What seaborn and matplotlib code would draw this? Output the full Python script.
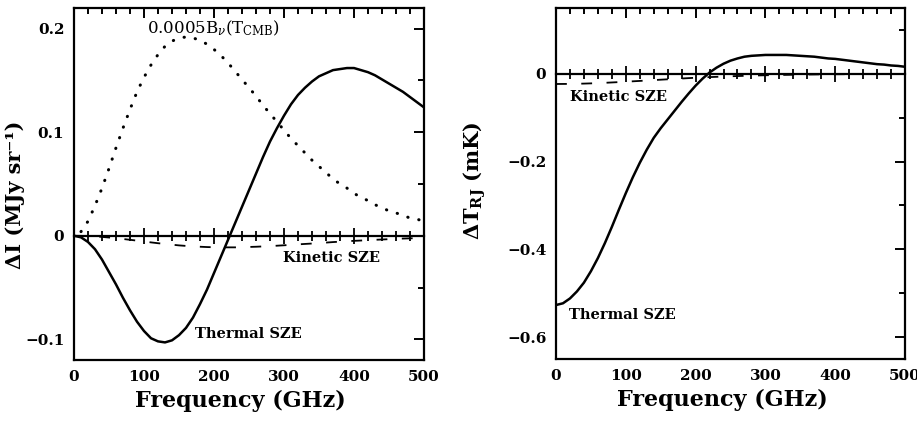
import numpy as np
import matplotlib
matplotlib.use("Agg")
import matplotlib.pyplot as plt
import seaborn as sns
from matplotlib.ticker import MultipleLocator, FixedLocator

# --------------------------------------
# DATA
# --------------------------------------

freq = list(range(0, 501, 10))

# left panel, intensity (MJy/sr)
thermal_I = [0.0, -0.0015, -0.006, -0.013, -0.023, -0.035, -0.047, -0.060,
             -0.072, -0.083, -0.092, -0.099, -0.102, -0.103, -0.101, -0.096,
             -0.089, -0.079, -0.066, -0.052, -0.036, -0.020, -0.004, 0.012,
             0.028, 0.044, 0.060, 0.076, 0.091, 0.104, 0.116, 0.127, 0.136,
             0.143, 0.149, 0.154, 0.157, 0.160, 0.161, 0.162, 0.162, 0.160,
             0.158, 0.155, 0.151, 0.147, 0.143, 0.139, 0.134, 0.129, 0.124]
kinetic_I = [0.0, -0.0001, -0.0003, -0.0006, -0.0011, -0.0017, -0.0023,
             -0.0031, -0.0039, -0.0047, -0.0055, -0.0064, -0.0072, -0.0079,
             -0.0086, -0.0093, -0.0098, -0.0103, -0.0106, -0.0109, -0.0111,
             -0.0112, -0.0112, -0.0112, -0.0110, -0.0108, -0.0106, -0.0103,
             -0.0100, -0.0096, -0.0092, -0.0088, -0.0083, -0.0079, -0.0075,
             -0.0070, -0.0066, -0.0061, -0.0057, -0.0053, -0.0049, -0.0046,
             -0.0042, -0.0039, -0.0036, -0.0033, -0.0030, -0.0027, -0.0025,
             -0.0023, -0.0021]
planck_I = [0.0, 0.004, 0.014, 0.029, 0.046, 0.065, 0.085, 0.104, 0.122,
            0.139, 0.153, 0.165, 0.175, 0.183, 0.188, 0.191, 0.192, 0.191,
            0.189, 0.185, 0.180, 0.174, 0.167, 0.159, 0.151, 0.143, 0.135,
            0.126, 0.118, 0.110, 0.102, 0.094, 0.087, 0.080, 0.073, 0.067,
            0.061, 0.055, 0.050, 0.046, 0.041, 0.037, 0.034, 0.030, 0.027,
            0.024, 0.022, 0.020, 0.017, 0.016, 0.014]

# right panel, RJ brightness temperature (mK)
thermal_T = [-0.527, -0.523, -0.512, -0.496, -0.476, -0.450, -0.420, -0.386,
             -0.349, -0.310, -0.272, -0.236, -0.203, -0.173, -0.146, -0.124,
             -0.104, -0.084, -0.064, -0.045, -0.027, -0.011, 0.003, 0.014,
             0.023, 0.030, 0.035, 0.039, 0.041, 0.042, 0.043, 0.043, 0.043,
             0.043, 0.042, 0.041, 0.040, 0.039, 0.037, 0.035, 0.034, 0.032,
             0.030, 0.028, 0.026, 0.024, 0.022, 0.021, 0.019, 0.018, 0.016]
kinetic_T = [-0.0232, -0.0231, -0.0230, -0.0227, -0.0223, -0.0218, -0.0212,
             -0.0205, -0.0197, -0.0189, -0.0180, -0.0171, -0.0162, -0.0153,
             -0.0143, -0.0134, -0.0125, -0.0115, -0.0107, -0.0098, -0.0090,
             -0.0083, -0.0075, -0.0069, -0.0062, -0.0056, -0.0051, -0.0046,
             -0.0041, -0.0037, -0.0033, -0.0030, -0.0026, -0.0024, -0.0021,
             -0.0019, -0.0017, -0.0015, -0.0013, -0.0011, -0.0010, -0.0009,
             -0.0008, -0.0007, -0.0006, -0.0005, -0.0005, -0.0004, -0.0004,
             -0.0003, -0.0003]

left_yticks = [-0.1, 0, 0.1, 0.2]
left_ylabels = ["\u22120.1", "0", "0.1", "0.2"]
right_yticks = [-0.6, -0.4, -0.2, 0]
right_ylabels = ["\u22120.6", "\u22120.4", "\u22120.2", "0"]

# --------------------------------------
# STYLE
# --------------------------------------

sns.set_theme(style="white")
plt.rcParams["font.family"] = ["DejaVu Serif"]
plt.rcParams["mathtext.fontset"] = "dejavuserif"
plt.rcParams["text.color"] = "black"
plt.rcParams["axes.labelcolor"] = "black"
plt.rcParams["xtick.color"] = "black"
plt.rcParams["ytick.color"] = "black"
plt.rcParams["axes.linewidth"] = 1.6

fig = plt.figure(figsize=(9.17, 4.22), dpi=100)
axL = fig.add_axes([74 / 917, 62 / 422, 350 / 917, 352 / 422])
axR = fig.add_axes([556 / 917, 63 / 422, 349 / 917, 351 / 422])


def style_axes(ax, yminor):
    ax.set_xlim(0, 500)
    ax.xaxis.set_major_locator(MultipleLocator(100))
    ax.xaxis.set_minor_locator(MultipleLocator(20))
    ax.yaxis.set_minor_locator(MultipleLocator(yminor))
    ax.tick_params(which="both", direction="in", top=True, right=True,
                   colors="black", labelcolor="black", width=1.4)
    ax.tick_params(which="major", length=7, labelsize=11, pad=7)
    ax.tick_params(which="minor", length=4)
    for lab in ax.get_xticklabels() + ax.get_yticklabels():
        lab.set_fontweight("bold")
    for sp in ax.spines.values():
        sp.set_color("black")
        sp.set_linewidth(1.6)
    # zero line with crossing ticks
    sec = ax.secondary_xaxis(0, transform=ax.transData)
    sec.xaxis.set_major_locator(MultipleLocator(100))
    sec.xaxis.set_minor_locator(MultipleLocator(20))
    sec.tick_params(which="both", direction="inout", labelbottom=False,
                    colors="black", width=1.3)
    sec.tick_params(which="major", length=12)
    sec.tick_params(which="minor", length=7)
    sec.spines["bottom"].set_linewidth(1.6)
    sec.spines["bottom"].set_color("black")
    ax.set_xlabel("Frequency (GHz)", fontsize=16, fontweight="bold",
                  color="black")


# --------------------------------------
# LEFT PANEL - INTENSITY
# --------------------------------------

sns.lineplot(x=freq, y=thermal_I, ax=axL, color="black", lw=1.8)
sns.lineplot(x=freq, y=kinetic_I, ax=axL, color="black", lw=1.3,
             linestyle=(0, (6, 8)))
sns.lineplot(x=freq[1:], y=planck_I[1:], ax=axL, color="black", lw=2.2,
             linestyle=(0, (0.1, 3.6)), dash_capstyle="round")

axL.set_ylim(-0.12, 0.22)
axL.yaxis.set_major_locator(FixedLocator(left_yticks))
axL.set_yticklabels(left_ylabels)
style_axes(axL, 0.05)
axL.set_ylabel("\u0394I (MJy sr\u207b\u00b9)", fontsize=15, fontweight="bold",
               color="black")
axL.yaxis.set_label_coords(-0.14, 0.47)
axL.xaxis.set_label_coords(0.474, -0.085)

axL.text(104, 0.2, r"0.0005B$_\nu$(T$_{\rm CMB}$)", fontsize=12,
         va="center", ha="left")
axL.text(299, -0.021, "Kinetic SZE", fontsize=10.5, fontweight="bold",
         va="center", ha="left")
axL.text(173, -0.095, "Thermal SZE", fontsize=10.5, fontweight="bold",
         va="center", ha="left")

# --------------------------------------
# RIGHT PANEL - RJ TEMPERATURE
# --------------------------------------

sns.lineplot(x=freq, y=thermal_T, ax=axR, color="black", lw=1.8)
sns.lineplot(x=freq, y=kinetic_T, ax=axR, color="black", lw=1.3,
             linestyle=(0, (6, 8)))

axR.set_ylim(-0.65, 0.15)
axR.yaxis.set_major_locator(FixedLocator(right_yticks))
axR.set_yticklabels(right_ylabels)
style_axes(axR, 0.1)
axR.set_ylabel(r"$\mathbf{\Delta T_{RJ}}$ (mK)", fontsize=15,
               fontweight="bold", color="black")
axR.yaxis.set_label_coords(-0.195, 0.507)
axR.xaxis.set_label_coords(0.478, -0.085)

axR.text(20, -0.052, "Kinetic SZE", fontsize=10.5, fontweight="bold",
         va="center", ha="left")
axR.text(19, -0.55, "Thermal SZE", fontsize=10.5, fontweight="bold",
         va="center", ha="left")

plt.savefig("out.png", dpi=100)
